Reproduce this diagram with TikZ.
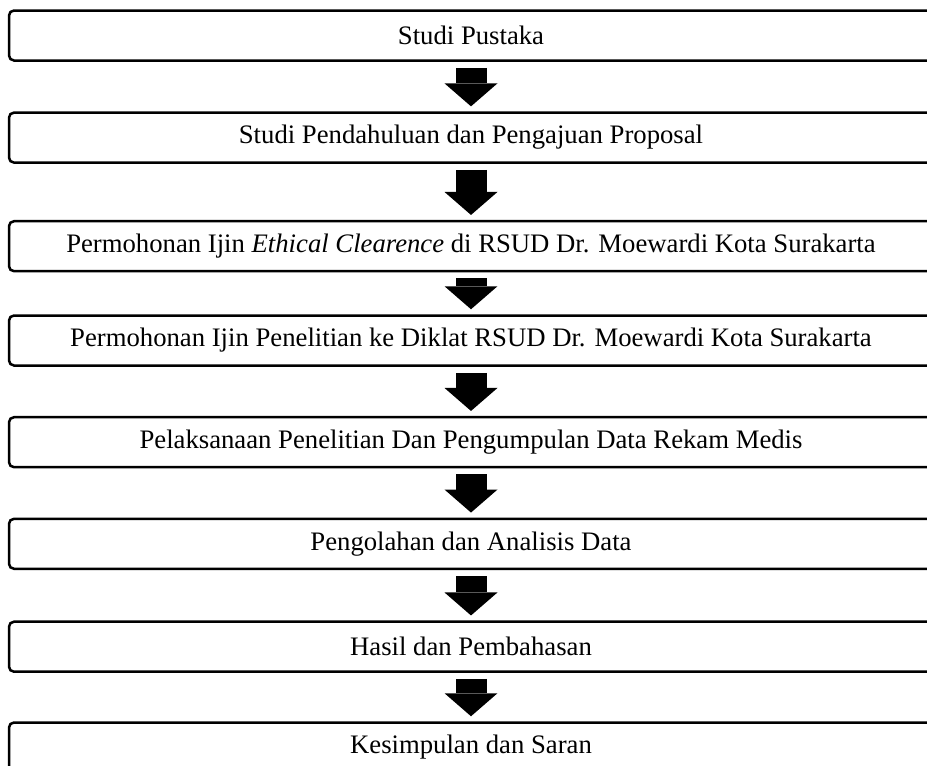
\documentclass[tikz,border=0pt]{standalone}
\usepackage{fontspec}
\setmainfont{Liberation Serif}
\usetikzlibrary{arrows.meta}
\begin{document}
\begin{tikzpicture}[x=1pt,y=-1pt,
  stepbox/.style={draw=black, line width=2.5pt, rounded corners=5pt, minimum width=924pt, minimum height=50pt, inner sep=0pt, font=\fontsize{26.7}{30}\selectfont, anchor=center},
  blockarrow/.style={line width=31pt, -{Triangle[width=53pt,length=23pt,line width=0pt]}, shorten <=6pt, shorten >=5pt}]
\useasboundingbox (0,0) rectangle (927,766);
\node[stepbox] (s1) at (471,35.5) {Studi Pustaka};
\node[stepbox] (s2) at (471,137.6) {Studi Pendahuluan dan Pengajuan Proposal};
\node[stepbox] (s3) at (471,246.2) {Permohonan Ijin \textit{Ethical Clearence} di RSUD Dr. Moewardi Kota Surakarta};
\node[stepbox] (s4) at (471,340.5) {Permohonan Ijin Penelitian ke Diklat RSUD Dr. Moewardi Kota Surakarta};
\node[stepbox] (s5) at (471,442.2) {Pelaksanaan Penelitian Dan Pengumpulan Data Rekam Medis};
\node[stepbox] (s6) at (471,543.8) {Pengolahan dan Analisis Data};
\node[stepbox] (s7) at (471,646.7) {Hasil dan Pembahasan};
\node[stepbox] (s8) at (471,747.5) {Kesimpulan dan Saran};
\draw[blockarrow] (s1.south) -- (s2.north);
\draw[blockarrow] (s2.south) -- (s3.north);
\draw[blockarrow] (s3.south) -- (s4.north);
\draw[blockarrow] (s4.south) -- (s5.north);
\draw[blockarrow] (s5.south) -- (s6.north);
\draw[blockarrow] (s6.south) -- (s7.north);
\draw[blockarrow] (s7.south) -- (s8.north);
\end{tikzpicture}
\end{document}
